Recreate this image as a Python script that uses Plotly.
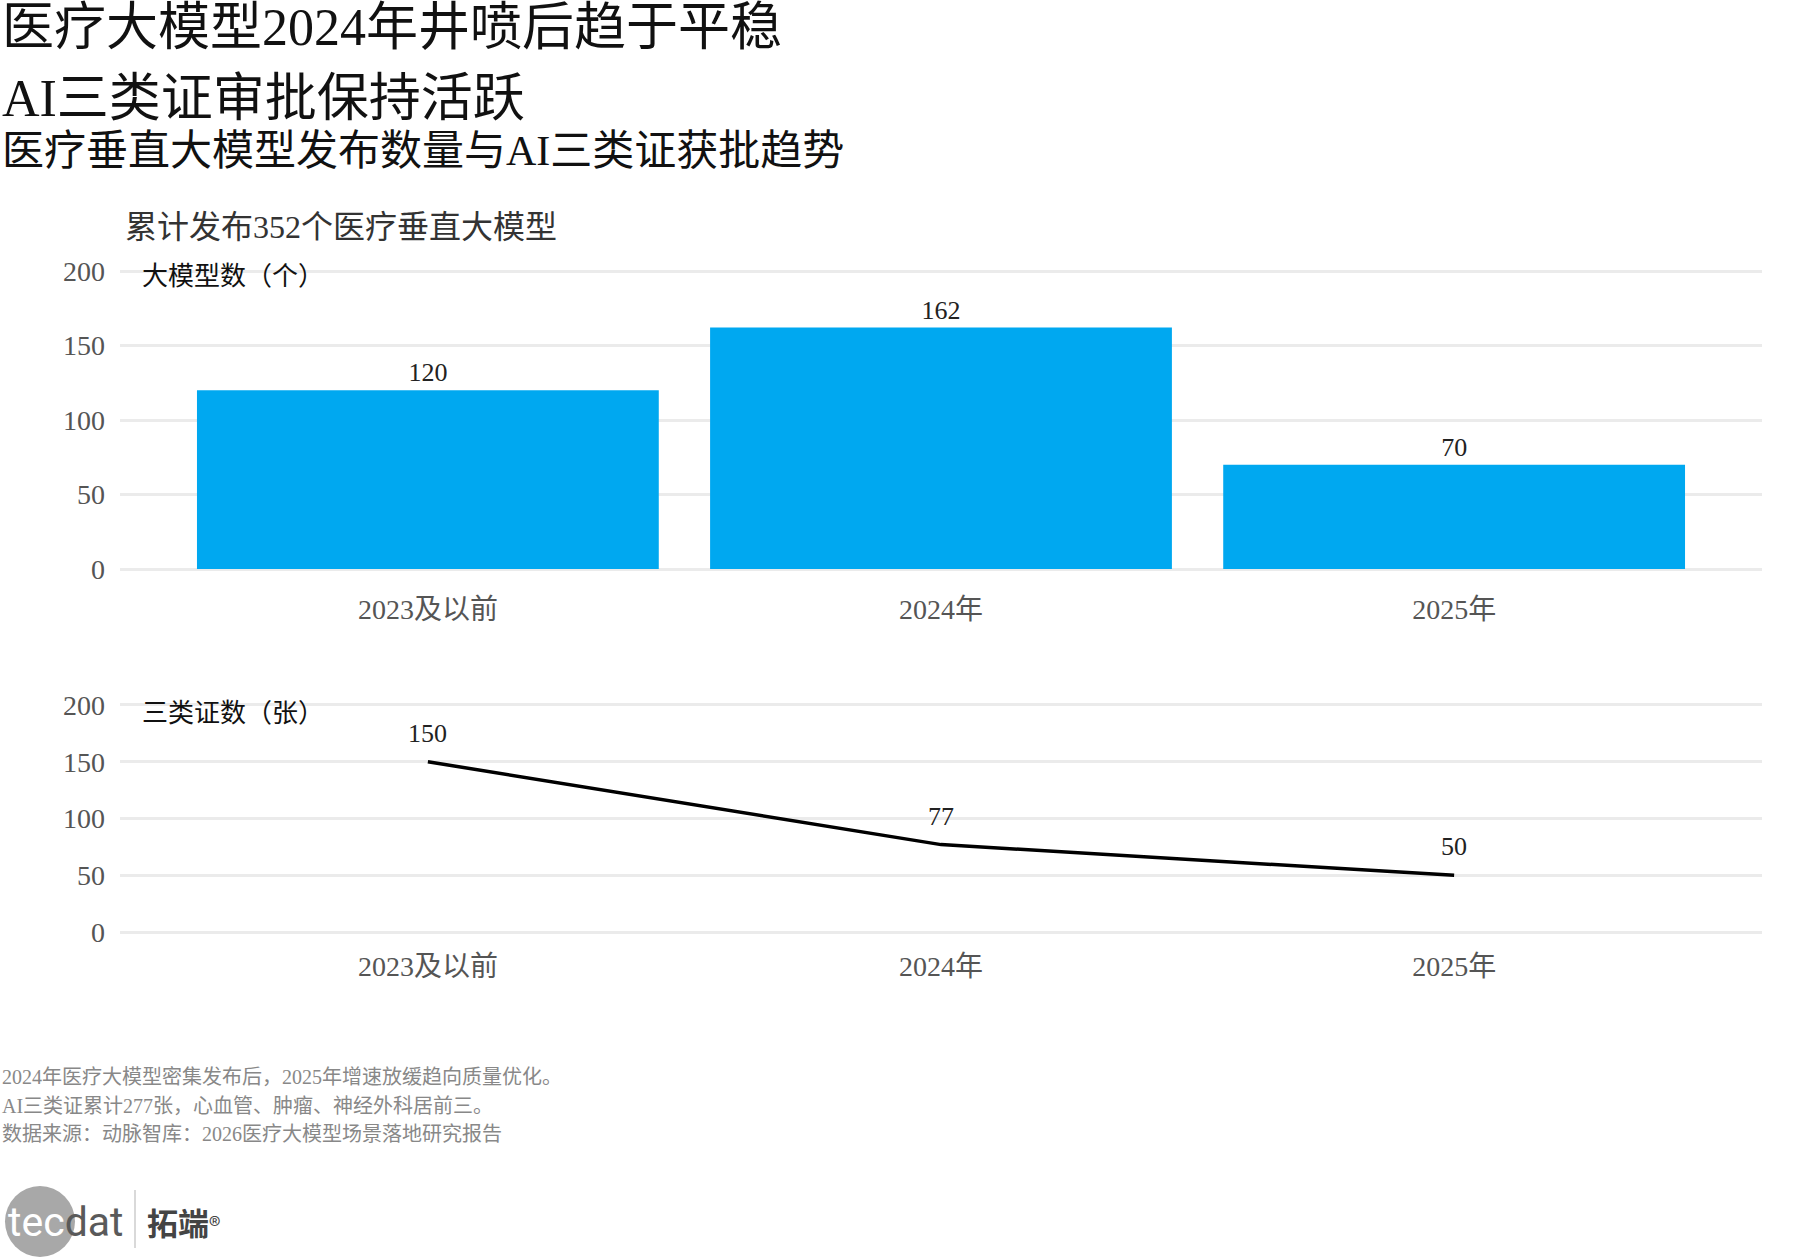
import plotly.graph_objects as go

# ---- data ----
categories = ["2023及以前", "2024年", "2025年"]
model_counts = [120, 162, 70]
cert_counts = [150, 77, 50]
y_ticks = [0, 50, 100, 150, 200]

title_lines = ["医疗大模型2024年井喷后趋于平稳", "AI三类证审批保持活跃"]
subtitle = "医疗垂直大模型发布数量与AI三类证获批趋势"
top_note = "累计发布352个医疗垂直大模型"
top_axis_title = "大模型数（个）"
bottom_axis_title = "三类证数（张）"
footnotes = [
    "2024年医疗大模型密集发布后，2025年增速放缓趋向质量优化。",
    "AI三类证累计277张，心血管、肿瘤、神经外科居前三。",
    "数据来源：动脉智库：2026医疗大模型场景落地研究报告",
]

W, H = 1800, 1260
FONT = "Liberation Serif, Noto Sans CJK SC, sans-serif"
BAR_COLOR = "#00A8F0"
GRID = "#EBEBEB"


def px(x):
    return x / W


def py(y):
    return 1 - y / H


fig = go.Figure()

fig.add_trace(go.Bar(
    x=categories, y=model_counts, marker=dict(color=BAR_COLOR, line=dict(width=0)),
    text=[str(v) for v in model_counts], textposition="outside",
    textfont=dict(family=FONT, size=26, color="#222"), cliponaxis=False,
    xaxis="x", yaxis="y", showlegend=False, hoverinfo="x+y",
))

fig.add_trace(go.Scatter(
    x=categories, y=cert_counts, mode="lines",
    line=dict(color="#000000", width=3.5),
    xaxis="x2", yaxis="y2", showlegend=False, cliponaxis=False,
))

annotations = []
for c, v in zip(categories, cert_counts):
    annotations.append(dict(
        x=c, y=v, xref="x2", yref="y2", text=str(v), showarrow=False,
        yanchor="bottom", xanchor="center", yshift=12,
        font=dict(family=FONT, size=26, color="#222"),
    ))

# titles
annotations.append(dict(x=0, y=py(27), xref="paper", yref="paper", xanchor="left", yanchor="middle",
                        text=title_lines[0], showarrow=False, font=dict(family=FONT, size=52, color="#111")))
annotations.append(dict(x=0, y=py(99), xref="paper", yref="paper", xanchor="left", yanchor="middle",
                        text=title_lines[1], showarrow=False, font=dict(family=FONT, size=52, color="#111")))
annotations.append(dict(x=0, y=py(151), xref="paper", yref="paper", xanchor="left", yanchor="middle",
                        text=subtitle, showarrow=False, font=dict(family=FONT, size=42, color="#111")))
annotations.append(dict(x=px(123), y=py(227), xref="paper", yref="paper", xanchor="left", yanchor="middle",
                        text=top_note, showarrow=False, font=dict(family=FONT, size=32, color="#333")))
annotations.append(dict(x=px(140), y=py(276), xref="paper", yref="paper", xanchor="left", yanchor="middle",
                        text=top_axis_title, showarrow=False, font=dict(family=FONT, size=26, color="#111")))
annotations.append(dict(x=px(140), y=py(713), xref="paper", yref="paper", xanchor="left", yanchor="middle",
                        text=bottom_axis_title, showarrow=False, font=dict(family=FONT, size=26, color="#111")))
for i, t in enumerate(footnotes):
    annotations.append(dict(x=0, y=py(1077 + i * 28.6), xref="paper", yref="paper", xanchor="left",
                            yanchor="middle", text=t, showarrow=False,
                            font=dict(family=FONT, size=20, color="#888")))

# logo
annotations.append(dict(x=px(6), y=py(1222), xref="paper", yref="paper", xanchor="left", yanchor="middle",
                        text="<span style='color:#ffffff'>tec</span><span style='color:#5a5a5a'>dat</span>",
                        showarrow=False, font=dict(family="Roboto, Open Sans, sans-serif", size=41)))
annotations.append(dict(x=px(145), y=py(1221), xref="paper", yref="paper", xanchor="left", yanchor="middle",
                        text="<b>拓端</b><span style='font-size:24px'>®</span>", showarrow=False,
                        font=dict(family="Noto Sans CJK SC, sans-serif", size=31, color="#444")))

shapes = [
    dict(type="circle", xref="paper", yref="paper", x0=px(5), x1=px(75), y0=py(1257), y1=py(1186),
         fillcolor="#A8A8A8", line=dict(width=0), layer="below"),
    dict(type="line", xref="paper", yref="paper", x0=px(135), x1=px(135), y0=py(1190), y1=py(1248),
         line=dict(color="#CCCCCC", width=1.5)),
]

xdom = [px(120), px(1762)]
axis_common_x = dict(range=[-0.6, 2.6], showgrid=False, zeroline=False, showline=False, ticks="",
                     tickfont=dict(family=FONT, size=28, color="#555"), fixedrange=True,
                     automargin=False)
axis_common_y = dict(range=[-5, 205], tickvals=y_ticks, showgrid=True, gridcolor=GRID, gridwidth=2.5,
                     zeroline=False, showline=False, ticks="",
                     tickfont=dict(family=FONT, size=28, color="#555"), ticklabelstandoff=14,
                     fixedrange=True, automargin=False)

fig.update_layout(
    template="none",
    width=W, height=H, margin=dict(l=0, r=0, t=0, b=0, pad=0, autoexpand=False),
    paper_bgcolor="white", plot_bgcolor="white",
    bargap=0.1, showlegend=False,
    xaxis=dict(domain=xdom, anchor="y", ticklabelstandoff=14, **axis_common_x),
    yaxis=dict(domain=[py(576.45), py(263.55)], anchor="x", **axis_common_y),
    xaxis2=dict(domain=xdom, anchor="y2", ticklabelstandoff=9, **axis_common_x),
    yaxis2=dict(domain=[py(937.7), py(699.3)], anchor="x2", **axis_common_y),
    annotations=annotations, shapes=shapes,
    font=dict(family=FONT),
)

fig.write_html("out.html")
